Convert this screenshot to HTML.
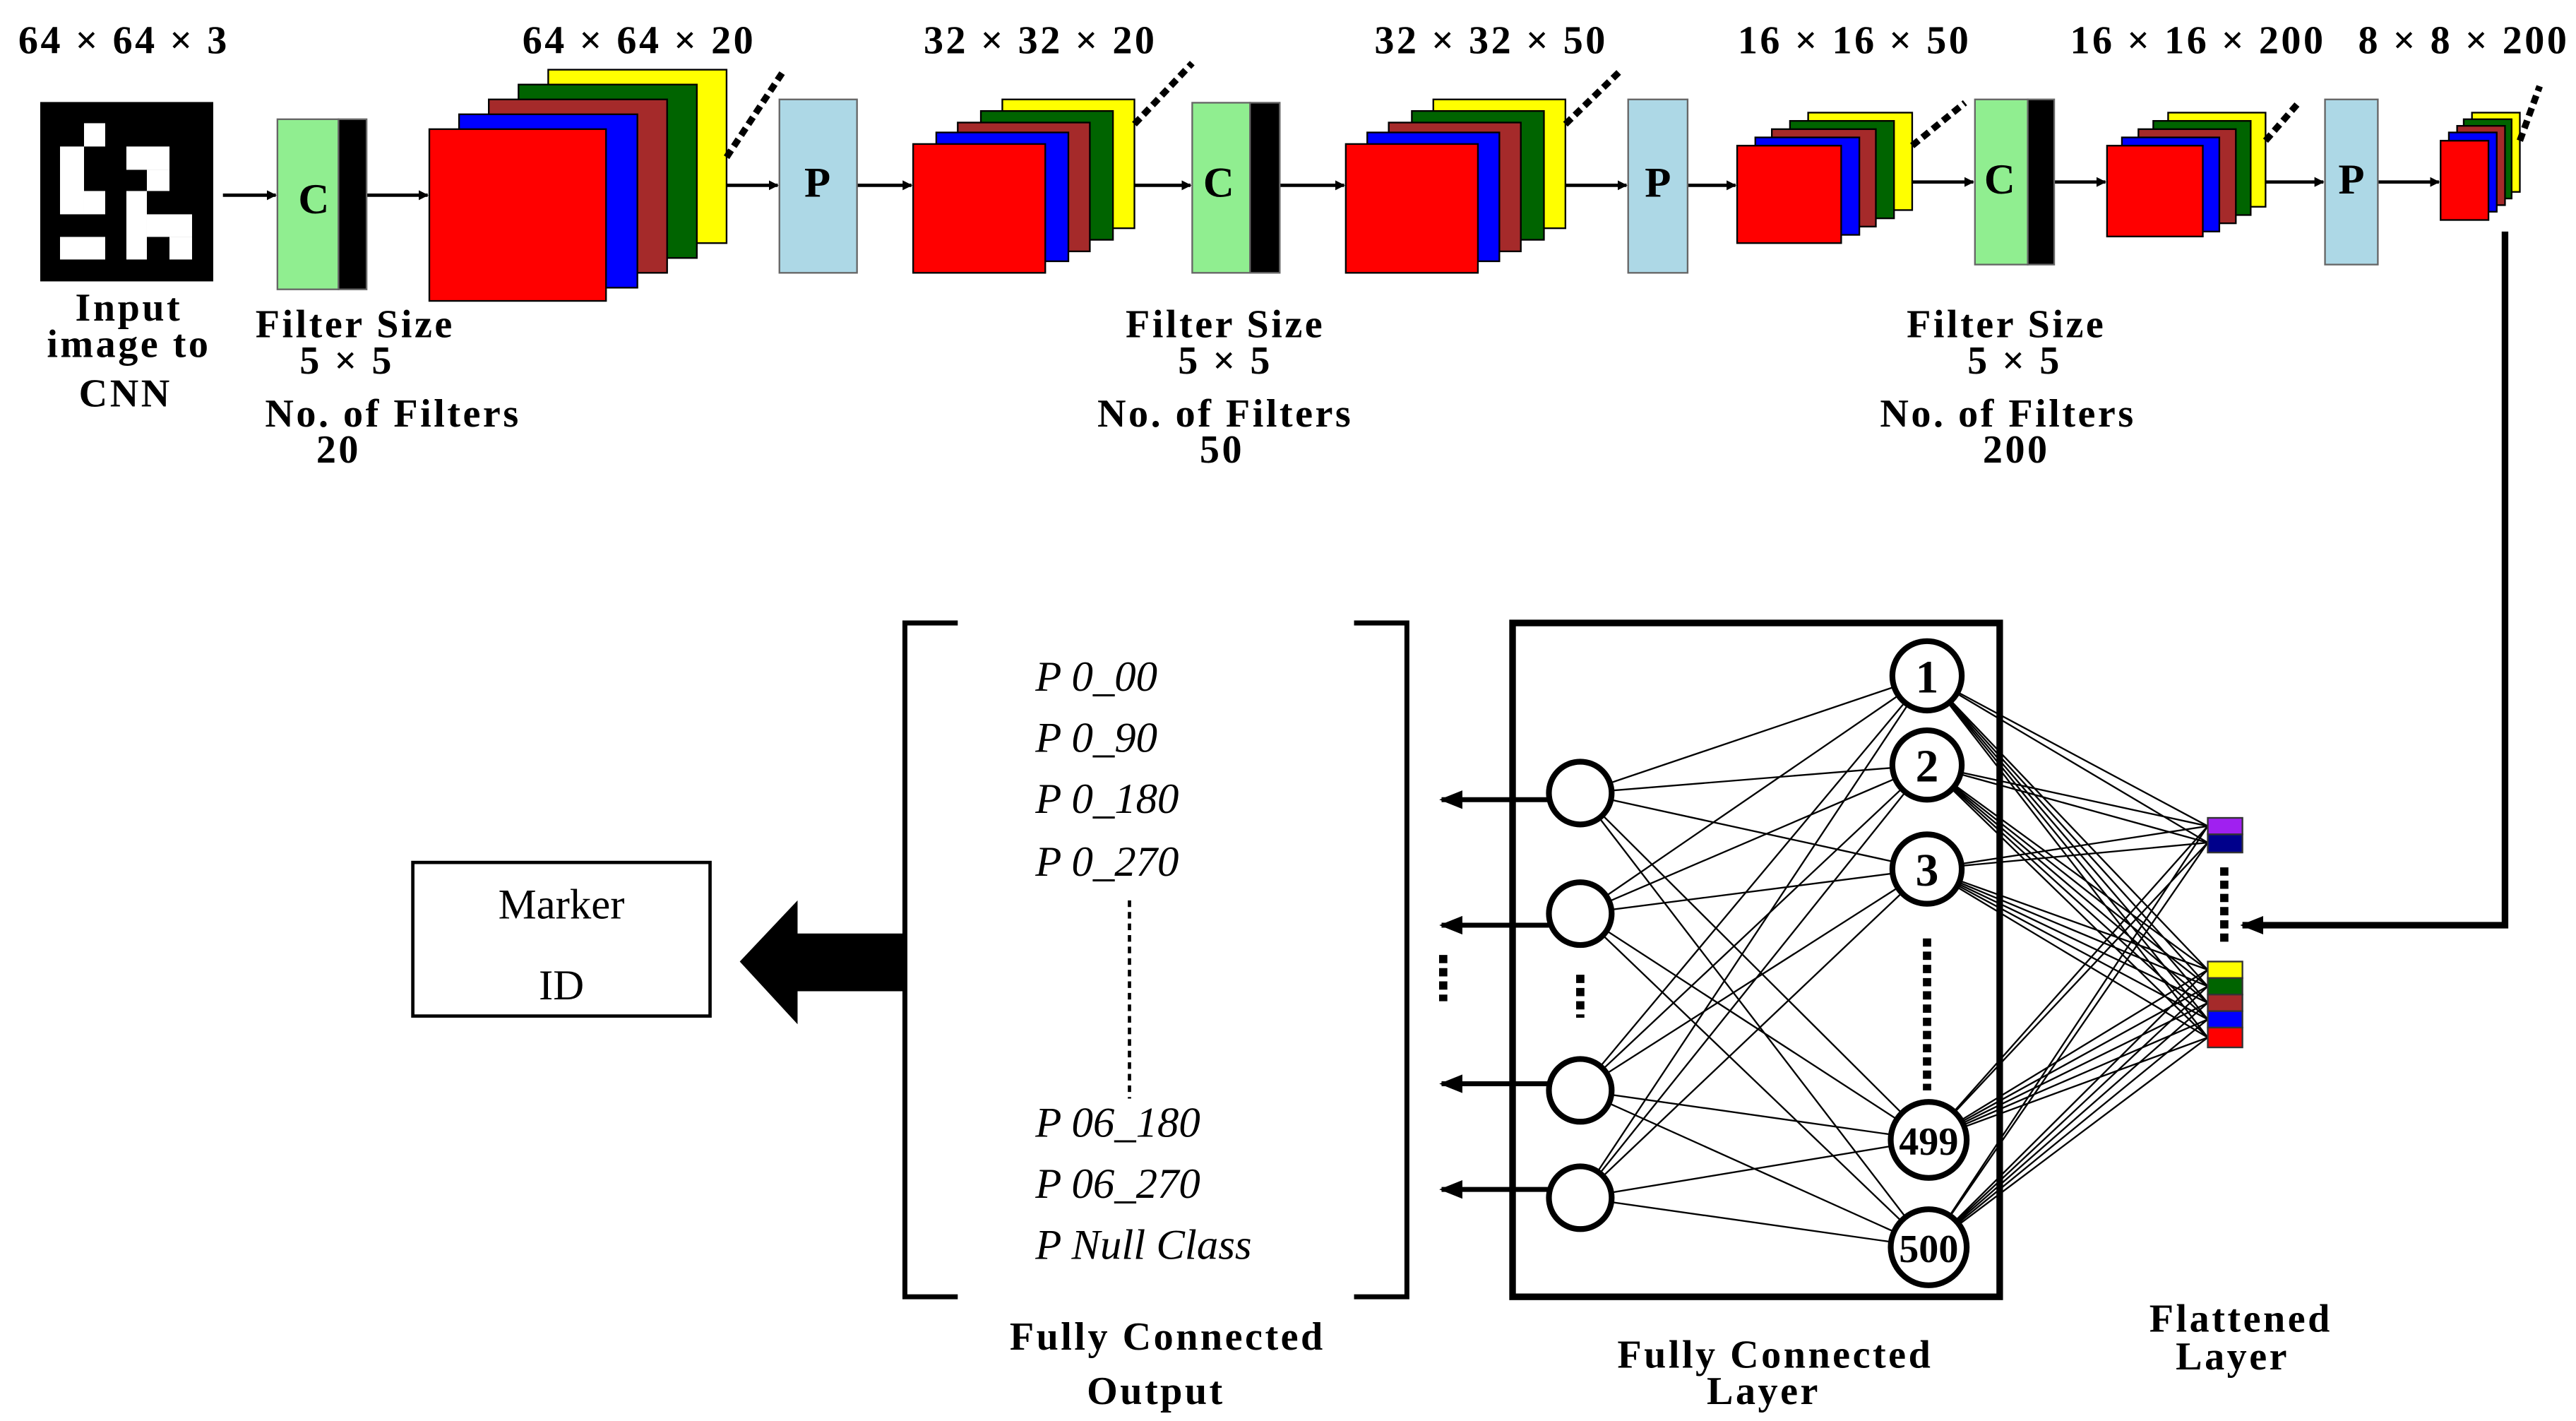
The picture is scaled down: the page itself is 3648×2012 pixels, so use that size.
<!DOCTYPE html>
<html><head><meta charset="utf-8"><style>
html,body{margin:0;padding:0;background:#fff;}
svg{display:block;}
text{font-family:"Liberation Serif",serif;}
.b{font-weight:bold;font-size:24px;letter-spacing:1.5px;}
.i{font-style:italic;font-size:26px;}
</style></head><body>
<svg width="3648" height="2012" viewBox="0 0 1560 860" xmlns="http://www.w3.org/2000/svg">
<defs>
<marker id="ah" viewBox="0 0 10 10" refX="9" refY="5" markerWidth="6" markerHeight="6" orient="auto" markerUnits="userSpaceOnUse"><path d="M0,0 L10,5 L0,10 z" fill="#000"/></marker>
<marker id="ah2" viewBox="0 0 10 10" refX="9" refY="5" markerWidth="14" markerHeight="14" orient="auto" markerUnits="userSpaceOnUse"><path d="M0,1 L10,5 L0,9 z" fill="#000"/></marker>
</defs>
<g transform="scale(0.4276)">
<rect x="57" y="144" width="245" height="254" fill="#000"/>
<g fill="#fff">
<rect x="119" y="174" width="30" height="33"/>
<rect x="85" y="207" width="34" height="96"/>
<rect x="119" y="270" width="30" height="33"/>
<rect x="179" y="207" width="61" height="33"/>
<rect x="208" y="240" width="32" height="30"/>
<rect x="179" y="270" width="29" height="97"/>
<rect x="208" y="303" width="64" height="32"/>
<rect x="240" y="335" width="32" height="32"/>
<rect x="85" y="335" width="64" height="32"/>
</g></g>
<g class="b" text-anchor="middle">
<text x="75" y="32">64 × 64 × 3</text>
<text x="387" y="32">64 × 64 × 20</text>
<text x="630" y="32">32 × 32 × 20</text>
<text x="903" y="32">32 × 32 × 50</text>
<text x="1123" y="32">16 × 16 × 50</text>
<text x="1331" y="32">16 × 16 × 200</text>
<text x="1492" y="32">8 × 8 × 200</text>
<text x="78" y="194">Input</text>
<text x="78" y="216">image to</text>
<text x="76" y="246">CNN</text>
<text x="215" y="204">Filter Size</text>
<text x="210" y="226">5 × 5</text>
<text x="238" y="258">No.  of Filters</text>
<text x="205" y="280">20</text>
<text x="742" y="204">Filter Size</text>
<text x="742" y="226">5 × 5</text>
<text x="742" y="258">No.  of Filters</text>
<text x="740" y="280">50</text>
<text x="1215" y="204">Filter Size</text>
<text x="1220" y="226">5 × 5</text>
<text x="1216" y="258">No.  of Filters</text>
<text x="1221" y="280">200</text>
</g>
<g stroke="#000" stroke-width="2" marker-end="url(#ah)">
<line x1="135" y1="118" x2="167" y2="118"/>
<line x1="222" y1="118" x2="259" y2="118"/>
<line x1="440" y1="112" x2="471" y2="112"/>
<line x1="519" y1="112" x2="552" y2="112"/>
<line x1="687" y1="112" x2="721" y2="112"/>
<line x1="775" y1="112" x2="814" y2="112"/>
<line x1="948" y1="112" x2="985" y2="112"/>
<line x1="1022" y1="112" x2="1051" y2="112"/>
<line x1="1158" y1="110" x2="1195" y2="110"/>
<line x1="1244" y1="110" x2="1275" y2="110"/>
<line x1="1372" y1="110" x2="1407" y2="110"/>
<line x1="1440" y1="110" x2="1477" y2="110"/>
</g>
<g stroke="#666" stroke-width="1">
<rect x="168" y="72" width="37" height="103" fill="#90ee90"/><rect x="205" y="72" width="17" height="103" fill="#000"/>
<rect x="722" y="62" width="35" height="103" fill="#90ee90"/><rect x="757" y="62" width="18" height="103" fill="#000"/>
<rect x="1196" y="60" width="32" height="100" fill="#90ee90"/><rect x="1228" y="60" width="16" height="100" fill="#000"/>
<rect x="472" y="60" width="47" height="105" fill="#add8e6"/>
<rect x="986" y="60" width="36" height="105" fill="#add8e6"/>
<rect x="1408" y="60" width="32" height="100" fill="#add8e6"/>
</g>
<g class="b" text-anchor="middle" style="font-size:26px;letter-spacing:0">
<text x="190" y="129">C</text><text x="738" y="119">C</text><text x="1211" y="117">C</text>
<text x="495" y="119">P</text><text x="1004" y="119">P</text><text x="1424" y="117">P</text>
</g>
<g stroke="#000" stroke-width="1">
<g><rect x="332" y="42" width="108" height="105" fill="#ff0"/><rect x="314" y="51" width="108" height="105" fill="#006400"/><rect x="296" y="60" width="108" height="105" fill="#a52a2a"/><rect x="278" y="69" width="108" height="105" fill="#00f"/><rect x="260" y="78" width="107" height="104" fill="#f00"/></g>
<g><rect x="607" y="60" width="80" height="78" fill="#ff0"/><rect x="594" y="67" width="80" height="78" fill="#006400"/><rect x="580" y="74" width="80" height="78" fill="#a52a2a"/><rect x="567" y="80" width="80" height="78" fill="#00f"/><rect x="553" y="87" width="80" height="78" fill="#f00"/></g>
<g><rect x="868" y="60" width="80" height="78" fill="#ff0"/><rect x="855" y="67" width="80" height="78" fill="#006400"/><rect x="841" y="74" width="80" height="78" fill="#a52a2a"/><rect x="828" y="80" width="80" height="78" fill="#00f"/><rect x="815" y="87" width="80" height="78" fill="#f00"/></g>
<g><rect x="1095" y="68" width="63" height="59" fill="#ff0"/><rect x="1084" y="73" width="63" height="59" fill="#006400"/><rect x="1073" y="78" width="63" height="59" fill="#a52a2a"/><rect x="1063" y="83" width="63" height="59" fill="#00f"/><rect x="1052" y="88" width="63" height="59" fill="#f00"/></g>
<g><rect x="1313" y="68" width="59" height="57" fill="#ff0"/><rect x="1304" y="73" width="59" height="57" fill="#006400"/><rect x="1295" y="78" width="59" height="57" fill="#a52a2a"/><rect x="1285" y="83" width="59" height="57" fill="#00f"/><rect x="1276" y="88" width="58" height="55" fill="#f00"/></g>
<g><rect x="1497" y="68" width="29" height="48" fill="#ff0"/><rect x="1492" y="72" width="29" height="48" fill="#006400"/><rect x="1488" y="76" width="29" height="48" fill="#a52a2a"/><rect x="1483" y="80" width="29" height="48" fill="#00f"/><rect x="1478" y="85" width="29" height="48" fill="#f00"/></g>
</g>
<g stroke="#000" stroke-width="4" stroke-dasharray="5,3">
<line x1="440" y1="95" x2="475" y2="42"/>
<line x1="687" y1="75" x2="722" y2="38"/>
<line x1="948" y1="75" x2="982" y2="42"/>
<line x1="1158" y1="88" x2="1190" y2="62"/>
<line x1="1372" y1="85" x2="1392" y2="62"/>
<line x1="1526" y1="85" x2="1538" y2="52"/>
</g>
<polyline points="1517,140 1517,560 1358,560" fill="none" stroke="#000" stroke-width="4" marker-end="url(#ah2)"/>
<rect x="250" y="522" width="180" height="93" fill="none" stroke="#000" stroke-width="2"/>
<text x="340" y="556" text-anchor="middle" style="font-size:26px">Marker</text>
<text x="340" y="605" text-anchor="middle" style="font-size:26px">ID</text>
<polygon points="548,565 483,565 483,545 448,582 483,620 483,600 548,600" fill="#000"/>
<g fill="none" stroke="#000" stroke-width="3">
<polyline points="580,377 548,377 548,785 580,785"/>
<polyline points="820,377 852,377 852,785 820,785"/>
</g>
<g class="i">
<text x="627" y="418">P 0_00</text>
<text x="627" y="455">P 0_90</text>
<text x="627" y="492">P 0_180</text>
<text x="627" y="530">P 0_270</text>
<text x="627" y="688">P 06_180</text>
<text x="627" y="725">P 06_270</text>
<text x="627" y="762">P Null Class</text>
</g>
<line x1="684" y1="545" x2="684" y2="665" stroke="#000" stroke-width="2" stroke-dasharray="4,3"/>
<g class="b" text-anchor="middle">
<text x="707" y="817">Fully  Connected</text>
<text x="700" y="850">Output</text>
<text x="1075" y="828">Fully Connected</text>
<text x="1068" y="850">Layer</text>
<text x="1357" y="806">Flattened</text>
<text x="1352" y="829">Layer</text>
</g>
<g stroke="#000" stroke-width="1">
<line x1="957" y1="480" x2="1167" y2="409"/><line x1="957" y1="480" x2="1167" y2="463"/><line x1="957" y1="480" x2="1167" y2="526"/><line x1="957" y1="480" x2="1168" y2="690"/><line x1="957" y1="480" x2="1168" y2="755"/>
<line x1="957" y1="553" x2="1167" y2="409"/><line x1="957" y1="553" x2="1167" y2="463"/><line x1="957" y1="553" x2="1167" y2="526"/><line x1="957" y1="553" x2="1168" y2="690"/><line x1="957" y1="553" x2="1168" y2="755"/>
<line x1="957" y1="660" x2="1167" y2="409"/><line x1="957" y1="660" x2="1167" y2="463"/><line x1="957" y1="660" x2="1167" y2="526"/><line x1="957" y1="660" x2="1168" y2="690"/><line x1="957" y1="660" x2="1168" y2="755"/>
<line x1="957" y1="725" x2="1167" y2="409"/><line x1="957" y1="725" x2="1167" y2="463"/><line x1="957" y1="725" x2="1167" y2="526"/><line x1="957" y1="725" x2="1168" y2="690"/><line x1="957" y1="725" x2="1168" y2="755"/>
</g>
<g stroke="#000" stroke-width="1">
<path d="M1167,409L1337,500M1167,409L1337,510M1167,409L1337,587M1167,409L1337,597M1167,409L1337,607M1167,409L1337,617M1167,409L1337,628
M1167,463L1337,500M1167,463L1337,510M1167,463L1337,587M1167,463L1337,597M1167,463L1337,607M1167,463L1337,617M1167,463L1337,628
M1167,526L1337,500M1167,526L1337,510M1167,526L1337,587M1167,526L1337,597M1167,526L1337,607M1167,526L1337,617M1167,526L1337,628
M1168,690L1337,500M1168,690L1337,510M1168,690L1337,587M1168,690L1337,597M1168,690L1337,607M1168,690L1337,617M1168,690L1337,628
M1168,755L1337,500M1168,755L1337,510M1168,755L1337,587M1168,755L1337,597M1168,755L1337,607M1168,755L1337,617M1168,755L1337,628"/>
</g>
<rect x="916" y="377" width="295" height="408" fill="none" stroke="#000" stroke-width="4"/>
<g stroke="#000" stroke-width="3" marker-end="url(#ah2)">
<line x1="938" y1="484" x2="873" y2="484"/>
<line x1="938" y1="560" x2="873" y2="560"/>
<line x1="938" y1="656" x2="873" y2="656"/>
<line x1="938" y1="720" x2="873" y2="720"/>
</g>
<g fill="#fff" stroke="#000" stroke-width="3.5">
<circle cx="957" cy="480" r="19"/><circle cx="957" cy="553" r="19"/><circle cx="957" cy="660" r="19"/><circle cx="957" cy="725" r="19"/>
<circle cx="1167" cy="409" r="21"/><circle cx="1167" cy="463" r="21"/><circle cx="1167" cy="526" r="21"/><circle cx="1168" cy="690" r="23"/><circle cx="1168" cy="755" r="23"/>
</g>
<g class="b" text-anchor="middle" style="font-size:28px;letter-spacing:0">
<text x="1167" y="419">1</text><text x="1167" y="473">2</text><text x="1167" y="536">3</text>
</g>
<g class="b" text-anchor="middle" style="font-size:24px;letter-spacing:0">
<text x="1168" y="699">499</text><text x="1168" y="764">500</text>
</g>
<g stroke="#000" stroke-width="5" stroke-dasharray="5,3">
<line x1="957" y1="590" x2="957" y2="616"/>
<line x1="874" y1="578" x2="874" y2="606"/>
<line x1="1167" y1="568" x2="1167" y2="660"/>
<line x1="1347" y1="525" x2="1347" y2="570"/>
</g>
<g stroke="#333" stroke-width="1">
<rect x="1337" y="495" width="21" height="10" fill="#a020f0"/>
<rect x="1337" y="505" width="21" height="11" fill="#00008b"/>
<rect x="1337" y="582" width="21" height="10" fill="#ff0"/>
<rect x="1337" y="592" width="21" height="10" fill="#006400"/>
<rect x="1337" y="602" width="21" height="10" fill="#a52a2a"/>
<rect x="1337" y="612" width="21" height="10" fill="#00f"/>
<rect x="1337" y="622" width="21" height="12" fill="#f00"/>
</g>
</svg>
</body></html>
